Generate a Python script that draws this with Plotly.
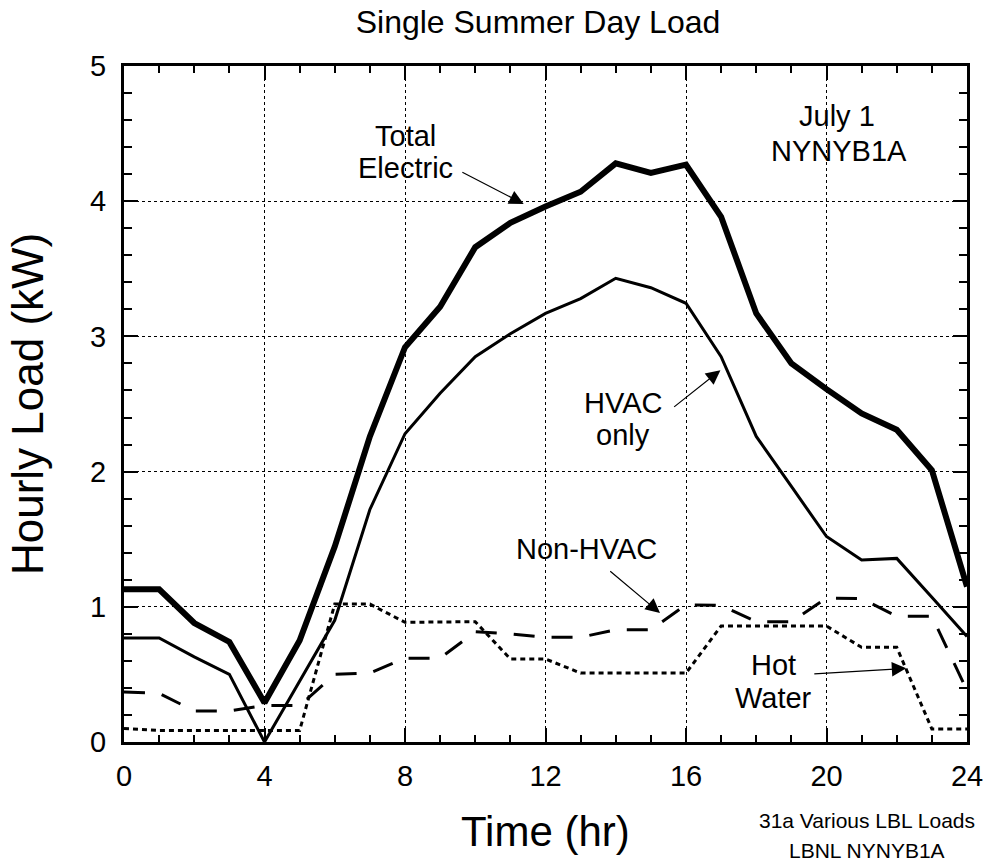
import plotly.graph_objects as go

hours = list(range(25))
total_electric = [1.13, 1.13, 0.88, 0.74, 0.29, 0.75, 1.445, 2.26, 2.92, 3.22, 3.66, 3.84, 3.96,
                  4.07, 4.28, 4.21, 4.27, 3.885, 3.17, 2.80, 2.61, 2.43, 2.31, 2.01, 1.15]
hvac_only = [0.77, 0.77, 0.63, 0.50, 0.0, 0.45, 0.90, 1.72, 2.28, 2.58, 2.85, 3.02, 3.17,
             3.28, 3.43, 3.36, 3.245, 2.85, 2.26, 1.89, 1.52, 1.346, 1.358, 1.07, 0.78]
non_hvac = [0.37, 0.36, 0.23, 0.23, 0.27, 0.27, 0.50, 0.51, 0.62, 0.62, 0.815, 0.80, 0.775,
            0.775, 0.83, 0.83, 1.015, 1.01, 0.89, 0.89, 1.065, 1.06, 0.93, 0.93, 0.38]
hot_water = [0.10, 0.085, 0.085, 0.085, 0.085, 0.085, 1.02, 1.02, 0.885, 0.89, 0.89, 0.614, 0.614,
             0.51, 0.51, 0.51, 0.51, 0.858, 0.858, 0.858, 0.858, 0.70, 0.70, 0.096, 0.096]

x_ticks = [0, 4, 8, 12, 16, 20, 24]
y_ticks = [0, 1, 2, 3, 4, 5]

FONT = "Liberation Sans, Arial, Helvetica, sans-serif"

fig = go.Figure()
fig.add_trace(go.Scatter(x=hours, y=hot_water, mode="lines",
                         line=dict(color="black", width=3, dash="5px,4px")))
fig.add_trace(go.Scatter(x=hours, y=non_hvac, mode="lines",
                         line=dict(color="black", width=3, dash="21px,17px")))
fig.add_trace(go.Scatter(x=hours, y=hvac_only, mode="lines",
                         line=dict(color="black", width=3)))
fig.add_trace(go.Scatter(x=hours, y=total_electric, mode="lines",
                         line=dict(color="black", width=6)))

axis_common = dict(
    showline=True, linecolor="black", linewidth=3, mirror="allticks",
    ticks="inside", tickcolor="black", tickwidth=2, ticklen=14,
    showgrid=True, gridcolor="black", gridwidth=1, griddash="dot",
    zeroline=False,
    tickfont=dict(family=FONT, size=29, color="black"),
)

fig.update_xaxes(range=[0, 24], tickvals=x_ticks, ticktext=[str(v) for v in x_ticks],
                 minor=dict(dtick=1, tick0=0, ticks="inside", ticklen=7, tickwidth=2,
                            tickcolor="black", showgrid=False),
                 ticklabelstandoff=6, **axis_common)
fig.update_yaxes(range=[0, 5], tickvals=y_ticks, ticktext=[str(v) for v in y_ticks],
                 minor=dict(dtick=0.2, tick0=0, ticks="inside", ticklen=8, tickwidth=2,
                            tickcolor="black", showgrid=False),
                 ticklabelstandoff=9, **axis_common)

ann_font = dict(family=FONT, size=29, color="black")
texts = [
    ("Total", 8.01, 4.482),
    ("Electric", 8.01, 4.249),
    ("HVAC", 14.21, 2.511),
    ("only", 14.21, 2.271),
    ("Non-HVAC", 13.16, 1.4275),
    ("Hot", 18.48, 0.566),
    ("Water", 18.48, 0.329),
    ("July 1", 20.29, 4.630),
    ("NYNYB1A", 20.35, 4.368),
]
annotations = []
for t, x, y in texts:
    annotations.append(dict(text=t, x=x, y=y, xref="x", yref="y", showarrow=False,
                            font=ann_font, align="center", xanchor="center", yanchor="middle"))

arrows = [
    (11.38, 3.98, 9.59, 4.22),
    (16.98, 2.75, 15.62, 2.47),
    (15.26, 0.954, 13.80, 1.272),
    (22.27, 0.545, 19.61, 0.503),
]
for hx, hy, tx, ty in arrows:
    annotations.append(dict(text="", x=hx, y=hy, xref="x", yref="y", ax=tx, ay=ty,
                            axref="x", ayref="y", showarrow=True, arrowhead=2,
                            arrowsize=2.4, arrowwidth=1.2, arrowcolor="black"))

annotations += [
    dict(text="Time (hr)", x=0.5, y=-0.133, xref="paper", yref="paper", showarrow=False,
         font=dict(family=FONT, size=42, color="black"), xanchor="center", yanchor="middle"),
    dict(text="Hourly Load (kW)", x=-0.115, y=0.5, xref="paper", yref="paper", showarrow=False,
         textangle=-90, font=dict(family=FONT, size=44, color="black"),
         xanchor="center", yanchor="middle"),
    dict(text="31a Various LBL Loads", x=0.881, y=-0.1154, xref="paper", yref="paper",
         showarrow=False, font=dict(family=FONT, size=21, color="black"),
         xanchor="center", yanchor="middle"),
    dict(text="LBNL NYNYB1A", x=0.881, y=-0.16, xref="paper", yref="paper",
         showarrow=False, font=dict(family=FONT, size=21, color="black"),
         xanchor="center", yanchor="middle"),
]

fig.update_layout(
    width=995, height=864,
    margin=dict(l=124, r=23, t=66, b=122),
    paper_bgcolor="white", plot_bgcolor="white",
    showlegend=False,
    title=dict(text="Single Summer Day Load", x=0.5407, xref="container", xanchor="center",
               y=1 - 22 / 864, yref="container", yanchor="middle",
               font=dict(family=FONT, size=32, color="black")),
    annotations=annotations,
)

fig.write_html("out.html")
